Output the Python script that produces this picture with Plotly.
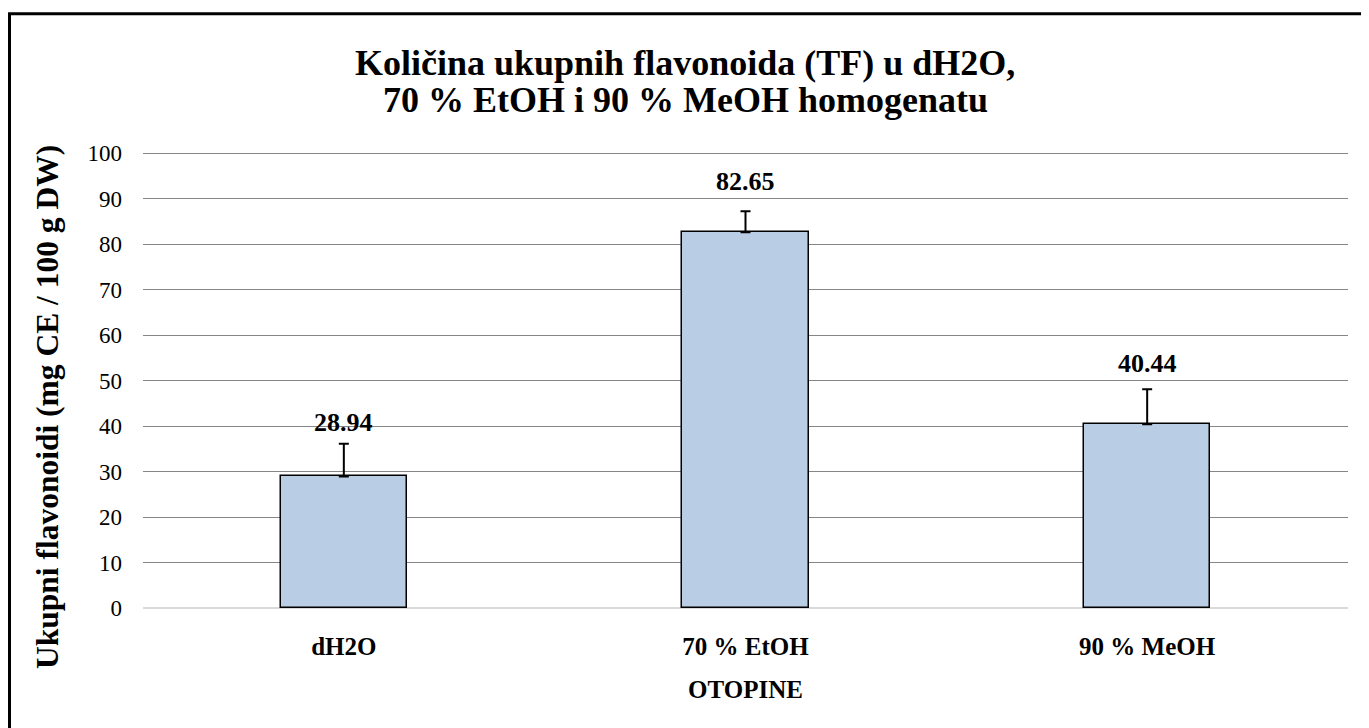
import plotly.graph_objects as go

categories = ["dH2O", "70 % EtOH", "90 % MeOH"]
values = [28.94, 82.65, 40.44]
errors = [7.2, 4.6, 7.7]
value_labels = ["28.94", "82.65", "40.44"]
y_ticks = [0, 10, 20, 30, 40, 50, 60, 70, 80, 90, 100]
title_lines = ["Količina ukupnih flavonoida (TF) u dH2O,",
               "70 % EtOH i 90 % MeOH homogenatu"]
y_title = "Ukupni flavonoidi (mg CE / 100 g DW)"
x_title = "OTOPINE"

FONT = "Liberation Serif, Times New Roman, serif"

W, H = 1361, 720
L, R, T, B = 135, 21, 144, 120
pw, ph = W - L - R, H - T - B


def px_x(fx):
    return (fx - L) / pw


def px_y(fy):
    return 1 - (fy - T) / ph


fig = go.Figure()
fig.add_trace(go.Bar(
    x=categories, y=values, width=0.315,
    marker=dict(color="#b9cde5", line=dict(color="black", width=1.5)),
    error_y=dict(type="data", symmetric=False, array=errors,
                 arrayminus=[0] * len(values), color="black", thickness=2, width=5),
    showlegend=False, hoverinfo="skip",
))

label_shifts = [5, 13, 9]
for c, v, e, t, s in zip(categories, values, errors, value_labels, label_shifts):
    fig.add_annotation(x=c, y=v + e, text="<b>" + t + "</b>", showarrow=False,
                       yanchor="bottom", yshift=s,
                       font=dict(family=FONT, size=26, color="black"))

# title lines
for line, fy in zip(title_lines, [55, 92]):
    fig.add_annotation(xref="paper", yref="paper", x=px_x(677), y=px_y(fy),
                       xanchor="center", yanchor="middle", showarrow=False,
                       text="<b>" + line + "</b>",
                       font=dict(family=FONT, size=36, color="black"))

# y-axis title
fig.add_annotation(xref="paper", yref="paper", x=px_x(39), y=px_y(399),
                   xanchor="center", yanchor="middle", showarrow=False,
                   textangle=-90, text="<b>" + y_title + "</b>",
                   font=dict(family=FONT, size=31.5, color="black"))

fig.add_shape(type="rect", xref="paper", yref="paper",
              x0=px_x(1.5), x1=px_x(W + 10),
              y0=px_y(H + 10), y1=px_y(5.8),
              line=dict(color="black", width=3), fillcolor="rgba(0,0,0,0)",
              layer="below")

fig.update_layout(
    width=W, height=H,
    margin=dict(l=L, r=R, t=T, b=B, autoexpand=False),
    paper_bgcolor="white", plot_bgcolor="white",
    font=dict(family=FONT, color="black"),
    bargap=0.0,
)
fig.update_yaxes(range=[0, 100.3], tickvals=y_ticks, showgrid=True,
                 gridcolor="#868686", gridwidth=1.3,
                 zeroline=True, zerolinecolor="#d9d9d9", zerolinewidth=2,
                 showline=False, ticks="", ticklen=0, ticklabelstandoff=20,
                 tickfont=dict(family=FONT, size=23, color="black"))
fig.update_xaxes(showgrid=False, showline=False, ticks="", ticklabelstandoff=21,
                 tickfont=dict(family=FONT, size=25, color="black"),
                 tickprefix="<b>", ticksuffix="</b>",
                 title=dict(text="<b>" + x_title + "</b>",
                            font=dict(family=FONT, size=25, color="black"),
                            standoff=21))

fig.write_html("out.html")
